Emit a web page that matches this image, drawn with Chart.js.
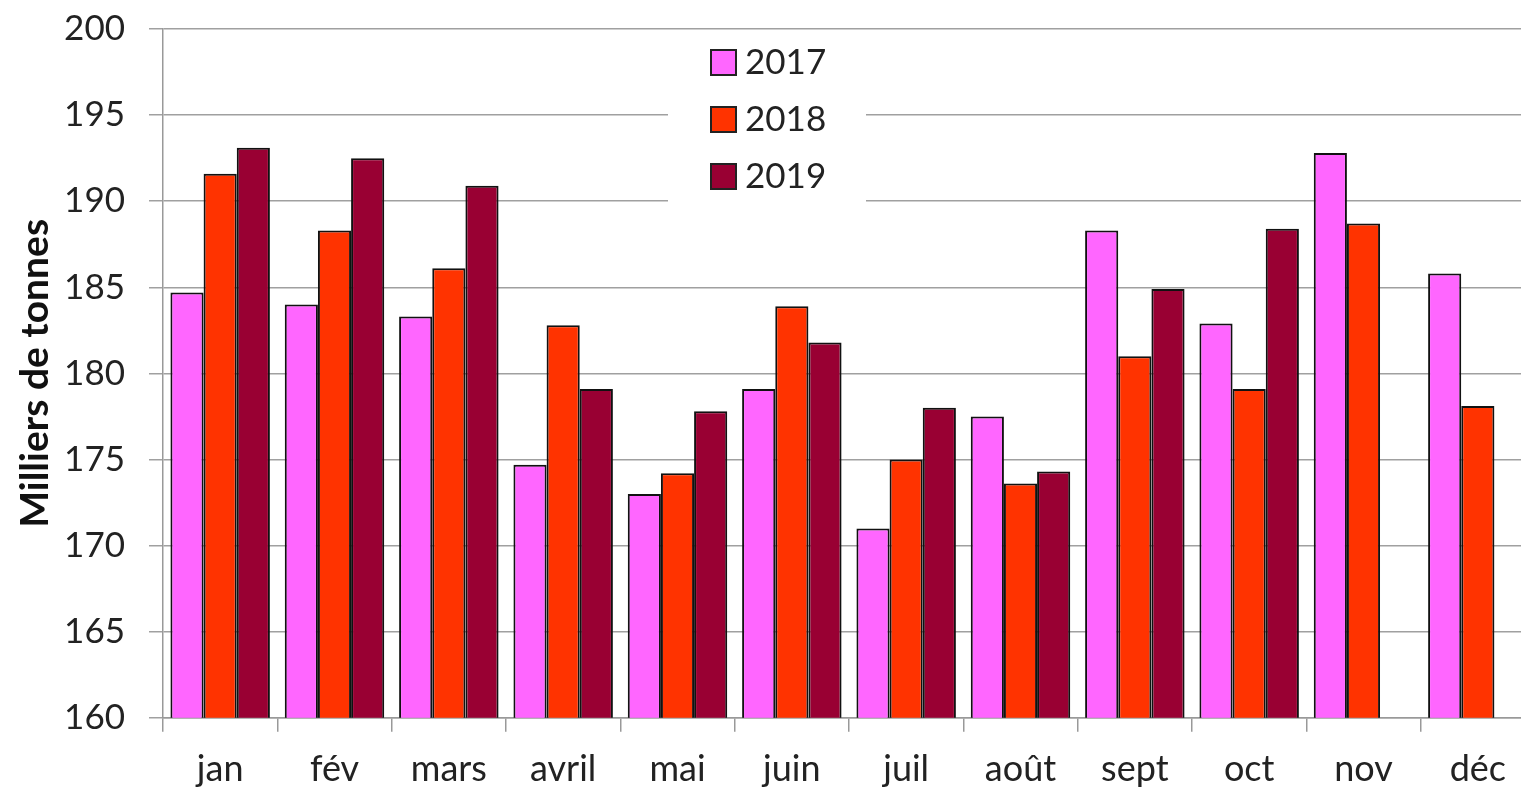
<!DOCTYPE html>
<html>
<head>
<meta charset="utf-8">
<script src="https://cdn.jsdelivr.net/npm/chart.js@4"></script>
<style>
	body { margin: 0; overflow: hidden; background: #fff; }
	#wrap { width: 1540px; height: 826px; margin-top: -16px; }
</style>
</head>
<body>
<div id="wrap"><canvas id="chart"></canvas></div>
<script>
var months = ['jan', 'fév', 'mars', 'avril', 'mai', 'juin', 'juil', 'août', 'sept', 'oct', 'nov', 'déc'];
var years = ['2017', '2018', '2019'];
var values2017 = [184.7, 184.0, 183.3, 174.7, 173.0, 179.1, 171.0, 177.5, 188.3, 182.9, 192.8, 185.8];
var values2018 = [191.6, 188.3, 186.1, 182.8, 174.2, 183.9, 175.0, 173.6, 181.0, 179.1, 188.7, 178.1];
var values2019 = [193.1, 192.5, 190.9, 179.1, 177.8, 181.8, 178.0, 174.3, 184.9, 188.4, null, null];
var colors = ['#ff66ff', '#ff3300', '#990033'];

var font = 'Lato, "Open Sans", sans-serif';

// legend drawn inside the plot, with a white box over the grid
var insideLegend = {
	id: 'insideLegend',
	afterDraw: function (chart) {
		var ctx = chart.ctx;
		var area = chart.chartArea;
		var x0 = area.left + 505;
		var y0 = area.top + 2;
		ctx.save();
		ctx.fillStyle = '#fff';
		ctx.fillRect(x0, y0, 198, 174);
		ctx.font = '35px ' + font;
		ctx.textBaseline = 'middle';
		chart.data.datasets.forEach(function (ds, i) {
			var cy = y0 + 31 + i * 57;
			ctx.fillStyle = ds.backgroundColor;
			ctx.fillRect(x0 + 43, cy - 12, 25, 25);
			ctx.strokeStyle = '#222';
			ctx.lineWidth = 2;
			ctx.strokeRect(x0 + 43, cy - 12, 25, 25);
			ctx.fillStyle = '#222';
			ctx.fillText(ds.label, x0 + 77, cy + 1);
		});
		ctx.restore();
	}
};

new Chart(document.getElementById('chart'), {
	type: 'bar',
	data: {
		labels: months,
		datasets: [
			{ label: years[0], data: values2017, backgroundColor: colors[0] },
			{ label: years[1], data: values2018, backgroundColor: colors[1] },
			{ label: years[2], data: values2019, backgroundColor: colors[2] }
		].map(function (d) {
			d.borderColor = '#111';
			d.borderWidth = 2;
			d.barPercentage = 1;
			d.categoryPercentage = 0.87;
			return d;
		})
	},
	options: {
		responsive: true,
		maintainAspectRatio: false,
		animation: false,
		layout: { padding: { left: 12, right: 5, top: 0, bottom: 3 } },
		plugins: {
			legend: { display: false },
			tooltip: { enabled: false }
		},
		scales: {
			x: {
				grid: {
					offset: true,
					drawOnChartArea: false,
					drawTicks: true,
					tickLength: 14,
					color: '#999',
					lineWidth: 1.5
				},
				border: { color: '#999', width: 1.5 },
				ticks: { color: '#222', font: { family: font, size: 36 }, padding: 16, maxRotation: 0 }
			},
			y: {
				min: 160,
				max: 200,
				ticks: { stepSize: 5, color: '#222', font: { family: font, size: 35 }, padding: 24 },
				grid: { color: '#a0a0a0', lineWidth: 1.5, tickLength: 14 },
				border: { color: '#999', width: 1.5 },
				title: {
					display: true,
					text: 'Milliers de tonnes',
					color: '#111',
					font: { family: font, size: 39, weight: 'bold' },
					padding: 0
				},
				afterFit: function (scale) { scale.width = 151; }
			}
		}
	},
	plugins: [insideLegend]
});
</script>
</body>
</html>
